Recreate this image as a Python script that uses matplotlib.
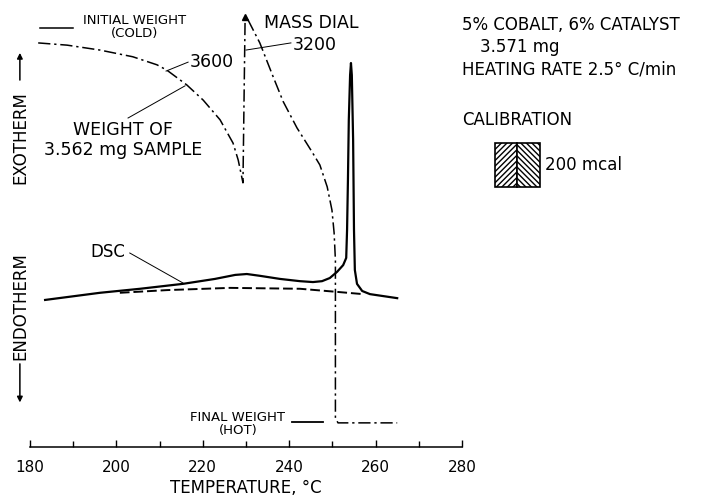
import matplotlib.pyplot as plt
from matplotlib.patches import Rectangle

# Thermogravimetric weight trace (temperature in C, pen deflection in chart units)
weight_temp = [181.9, 188.6, 196.2, 203.8, 209.4, 211.7, 216.3, 220.1, 224.0, 227.0, 228.2, 229.3,
               229.8, 230.5, 233.2, 236.3, 238.6, 241.8, 245.3, 247.1, 248.8, 249.9, 250.4,
               250.7, 250.7, 250.7, 251.3, 265.0]
weight_val = [90.4, 89.9, 88.8, 87.3, 85.5, 84.3, 81.0, 77.6, 73.2, 68.0, 64.2, 59.1,
              96.2, 95.5, 90.4, 82.8, 77.3, 71.4, 66.0, 63.1, 58.2, 53.0, 47.9,
              41.8, 21.7, 6.5, 5.4, 5.4]

# DSC trace and its interpolated baseline
dsc_temp = [183.5, 196.2, 205.5, 215.4, 222.8, 227.5, 230.2, 233.2, 237.9, 242.5, 245.5,
            247.6, 249.4, 251.1, 252.5, 253.2, 253.4, 253.6, 253.8, 254.1, 254.3, 254.5,
            254.8, 255.0, 255.2, 255.7, 256.9, 258.7, 265.0]
dsc_val = [32.9, 34.5, 35.4, 36.5, 37.6, 38.5, 38.7, 38.3, 37.6, 37.1, 36.9,
           37.1, 37.8, 39.2, 40.7, 42.3, 48.6, 59.7, 73.2, 83.2, 85.9, 83.2,
           68.7, 48.6, 39.6, 36.5, 34.9, 34.2, 33.3]
base_temp = [200.8, 211.7, 226.3, 242.5, 251.1, 257.1]
base_val = [34.5, 35.1, 35.6, 35.4, 34.7, 34.2]

# reference weights (cold start, hot end)
initial_temp = [182.3, 190.0]
initial_val = [93.7, 93.7]
final_temp = [240.6, 247.8]
final_val = [5.5, 5.5]

major_ticks = [180, 200, 220, 240, 260, 280]
minor_ticks = [190, 210, 230, 250, 270]

fig = plt.figure(figsize=(7.1, 4.96), dpi=100)
ax = fig.add_axes([0, 0, 1, 1])
ax.set_xlim(173.06, 337.41)
ax.set_ylim(-10.96, 100)

ax.plot(weight_temp, weight_val, color='black', lw=1.1, ls=(0, (8, 2.5, 1.5, 2.5)))
ax.plot(weight_temp[12], weight_val[12], marker='^', color='black', ms=4)
ax.plot(dsc_temp, dsc_val, color='black', lw=1.6, solid_joinstyle='round')
ax.plot(base_temp, base_val, color='black', lw=1.4, ls=(0, (5, 2)))
ax.plot(initial_temp, initial_val, color='black', lw=1.1)
ax.plot(final_temp, final_val, color='black', lw=1.3)

# leader lines to the labels
lead = dict(color='black', lw=0.7)
ax.plot([211.5, 216.6], [84.1, 86.1], **lead)
ax.plot([202.7, 215.9], [73.6, 80.8], **lead)
ax.plot([230.0, 240.4], [88.8, 90.4], **lead)
ax.plot([203.1, 215.4], [43.4, 36.7], **lead)

ax.text(204.3, 95.5, 'INITIAL WEIGHT', fontsize=9.5, ha='center', va='center')
ax.text(204.3, 92.4, '(COLD)', fontsize=9.5, ha='center', va='center')
ax.text(217.0, 86.1, '3600', fontsize=12.5, ha='left', va='center')
ax.text(201.6, 70.9, 'WEIGHT OF', fontsize=12.5, ha='center', va='center')
ax.text(201.6, 66.4, '3.562 mg SAMPLE', fontsize=12.5, ha='center', va='center')
ax.text(245.0, 94.9, 'MASS DIAL', fontsize=12.5, ha='center', va='center')
ax.text(240.9, 89.9, '3200', fontsize=12.5, ha='left', va='center')
ax.text(198.1, 43.6, 'DSC', fontsize=12, ha='center', va='center')
ax.text(228.1, 6.7, 'FINAL WEIGHT', fontsize=9.5, ha='center', va='center')
ax.text(228.1, 3.8, '(HOT)', fontsize=9.5, ha='center', va='center')

# run conditions and calibration block
tr = ax.transAxes
ax.text(0.651, 0.950, '5% COBALT, 6% CATALYST', fontsize=12, transform=tr, va='center')
ax.text(0.676, 0.905, '3.571 mg', fontsize=12, transform=tr, va='center')
ax.text(0.651, 0.859, 'HEATING RATE 2.5° C/min', fontsize=12, transform=tr, va='center')
ax.text(0.651, 0.758, 'CALIBRATION', fontsize=12, transform=tr, va='center')
ax.add_patch(Rectangle((0.697, 0.623), 0.0317, 0.0887, transform=tr,
                       facecolor='white', edgecolor='black', lw=1.2, hatch='//////'))
ax.add_patch(Rectangle((0.7287, 0.623), 0.0317, 0.0887, transform=tr,
                       facecolor='white', edgecolor='black', lw=1.2, hatch='\\\\\\\\\\\\'))
ax.text(0.768, 0.667, '200 mcal', fontsize=12, transform=tr, va='center')

# exotherm / endotherm direction markers
ax.text(0.028, 0.722, 'EXOTHERM', fontsize=12, rotation=90, transform=tr,
        ha='center', va='center')
ax.annotate('', xy=(0.028, 0.899), xytext=(0.028, 0.833), xycoords=tr,
            arrowprops=dict(arrowstyle='-|>', color='black', lw=1.1, mutation_scale=8))
ax.text(0.028, 0.383, 'ENDOTHERM', fontsize=12, rotation=90, transform=tr,
        ha='center', va='center')
ax.annotate('', xy=(0.028, 0.183), xytext=(0.028, 0.272), xycoords=tr,
            arrowprops=dict(arrowstyle='-|>', color='black', lw=1.1, mutation_scale=8))

# temperature axis: only the bottom spine, ticks pointing up
for side in ['left', 'right', 'top']:
    ax.spines[side].set_visible(False)
ax.spines['bottom'].set_position(('data', 0))
ax.spines['bottom'].set_bounds(180, 280)
ax.spines['bottom'].set_linewidth(1.1)
ax.set_xticks(major_ticks)
ax.set_xticks(minor_ticks, minor=True)
ax.set_xticklabels([str(t) for t in major_ticks], fontsize=11)
ax.tick_params(axis='x', which='both', direction='in', pad=9.5, width=1.0)
ax.tick_params(axis='x', which='major', length=5)
ax.tick_params(axis='x', which='minor', length=4)
ax.set_yticks([])
ax.set_xlabel('TEMPERATURE, °C', fontsize=12)
ax.xaxis.set_label_coords(0.3465, 0.034)

fig.savefig('out.png', dpi=100)
